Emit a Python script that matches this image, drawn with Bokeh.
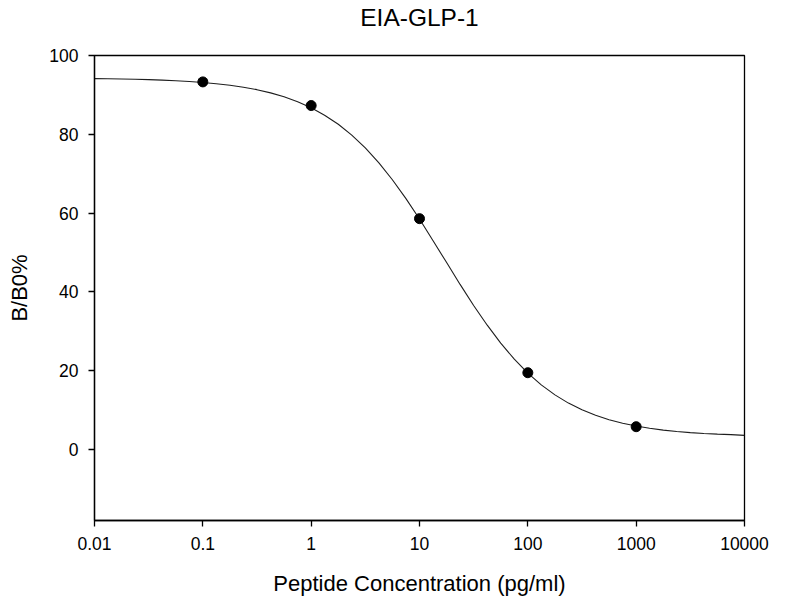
from bokeh.plotting import figure
from bokeh.models import FixedTicker, CustomJSTickFormatter, Range1d, LinearAxis
from bokeh.embed import file_html
from bokeh.resources import INLINE

# measured standards
conc = [0.1, 1, 10, 100, 1000]
b_b0 = [93.3, 87.3, 58.6, 19.5, 5.8]

# fitted curve
curve_x = [0.01, 0.0133, 0.0178, 0.0237, 0.0316, 0.0422, 0.0562, 0.075,
           0.1, 0.133, 0.178, 0.237, 0.316, 0.422, 0.562, 0.75,
           1, 1.33, 1.78, 2.37, 3.16, 4.22, 5.62, 7.5,
           10, 13.3, 17.8, 23.7, 31.6, 42.2, 56.2, 75,
           100, 133, 178, 237, 316, 422, 562, 750,
           1000, 1330, 1780, 2370, 3160, 4220, 5620, 7500, 10000]
curve_y = [94.14, 94.09, 94.04, 93.96, 93.87, 93.75, 93.60, 93.41,
           93.16, 92.85, 92.45, 91.95, 91.33, 90.52, 89.53, 88.28,
           86.74, 84.85, 82.55, 79.80, 76.55, 72.77, 68.47, 63.69,
           58.50, 53.04, 47.45, 41.91, 36.57, 31.56, 27.00, 22.95,
           19.42, 16.41, 13.88, 11.79, 10.08, 8.69, 7.57, 6.67,
           5.96, 5.39, 4.94, 4.59, 4.31, 4.09, 3.92, 3.79, 3.60]

x_ticks = [0.01, 0.1, 1, 10, 100, 1000, 10000]
y_ticks = [0, 20, 40, 60, 80, 100]
title_text = "EIA-GLP-1"

FONT = "Liberation Sans"

p = figure(width=794, height=599, x_axis_type="log",
           x_range=Range1d(0.01, 10000), y_range=Range1d(-18, 100),
           output_backend="svg", toolbar_location=None,
           min_border_left=94, min_border_right=50,
           min_border_top=55, min_border_bottom=79)

p.grid.visible = False
p.outline_line_color = "black"
p.outline_line_width = 1.3
p.background_fill_color = "white"
p.border_fill_color = "white"

p.xaxis.ticker = FixedTicker(ticks=x_ticks, minor_ticks=[])
p.xaxis.formatter = CustomJSTickFormatter(code="return tick.toString();")
p.yaxis.ticker = FixedTicker(ticks=y_ticks, minor_ticks=[])

for ax in (p.xaxis, p.yaxis):
    ax.axis_line_color = "black"
    ax.axis_line_width = 1.3
    ax.major_tick_line_color = "black"
    ax.major_tick_line_width = 1.3
    ax.major_tick_out = 6
    ax.major_tick_in = 0
    ax.minor_tick_line_color = None
    ax.major_label_text_font = FONT
    ax.major_label_text_font_size = "17.5px"
    ax.major_label_text_color = "black"
    ax.axis_label_text_font = FONT
    ax.axis_label_text_font_size = "22px"
    ax.axis_label_text_font_style = "normal"
    ax.axis_label_text_color = "black"

p.xaxis.axis_label = "Peptide Concentration (pg/ml)"
p.yaxis.axis_label = "B/B0%"
p.xaxis.major_label_standoff = 10
p.yaxis.major_label_standoff = 10
p.xaxis.axis_label_standoff = 18
p.yaxis.axis_label_standoff = 14

# chart title, drawn as the label of a bare axis above the frame
title_axis = LinearAxis(axis_label=title_text, ticker=FixedTicker(ticks=[]))
title_axis.axis_line_color = None
title_axis.major_tick_line_color = None
title_axis.minor_tick_line_color = None
title_axis.major_tick_out = 0
title_axis.major_label_standoff = 0
title_axis.axis_label_standoff = 25
title_axis.axis_label_text_font = FONT
title_axis.axis_label_text_font_size = "24.5px"
title_axis.axis_label_text_font_style = "normal"
title_axis.axis_label_text_color = "black"
p.add_layout(title_axis, "above")

p.line(curve_x, curve_y, line_color="#1e1e1e", line_width=1.1)
p.scatter(conc, b_b0, size=10, fill_color="black", line_color="black")

open("out.html", "w").write(file_html(p, INLINE))
